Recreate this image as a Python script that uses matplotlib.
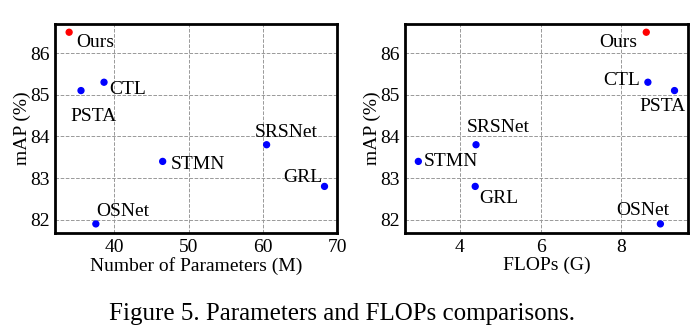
import matplotlib
matplotlib.use('Agg')
import matplotlib.pyplot as plt

plt.rcParams['font.family'] = ['Liberation Serif', 'DejaVu Serif']

methods = ['Ours', 'CTL', 'PSTA', 'SRSNet', 'STMN', 'GRL', 'OSNet']
mAP = [86.5, 85.3, 85.1, 83.8, 83.4, 82.8, 81.9]
params = [33.9, 38.6, 35.5, 60.5, 46.5, 68.3, 37.5]
flops = [8.62, 8.66, 9.32, 4.40, 2.97, 4.38, 8.97]

# label offsets in pixels (dx, dy, ha)
left_off = {'Ours': (7, -10, 'left'), 'CTL': (5, -7, 'left'), 'PSTA': (-11, -26, 'left'),
            'SRSNet': (20, 12, 'center'), 'STMN': (8, -3, 'left'), 'GRL': (-2, 9, 'right'),
            'OSNet': (0, 12, 'left')}
right_off = {'Ours': (-9, -10, 'right'), 'CTL': (-8, 2, 'right'), 'PSTA': (-12, -16, 'center'),
             'SRSNet': (22, 17, 'center'), 'STMN': (5, 0, 'left'), 'GRL': (4, -12, 'left'),
             'OSNet': (-18, 13, 'center')}

fig = plt.figure(figsize=(7, 3.32), dpi=100)
ax1 = fig.add_axes([0.0786, 0.298, 0.403, 0.63])
ax2 = fig.add_axes([0.5786, 0.298, 0.404, 0.63])


def draw(ax, xs, offs, xlim, xticks, xlabel):
    colors = ['red' if m == 'Ours' else 'blue' for m in methods]
    ax.scatter(xs, mAP, s=18, c=colors, zorder=3)
    for m, x, y in zip(methods, xs, mAP):
        dx, dy, ha = offs[m]
        ax.annotate(m, (x, y), xytext=(dx, dy), textcoords='offset pixels',
                    ha=ha, va='center', fontsize=14)
    ax.set_xlim(*xlim)
    ax.set_ylim(81.68, 86.7)
    ax.set_xticks(xticks)
    ax.set_yticks([82, 83, 84, 85, 86])
    ax.grid(True, ls='--', color='#999999', lw=0.7)
    ax.tick_params(direction='in', length=0, labelsize=14, pad=4)
    for sp in ax.spines.values():
        sp.set_linewidth(2)
    ax.set_xlabel(xlabel, fontsize=14, labelpad=1)
    ax.set_ylabel('mAP (%)', fontsize=14, labelpad=-1)


draw(ax1, params, left_off, (32, 70), [40, 50, 60, 70], 'Number of Parameters (M)')
draw(ax2, flops, right_off, (2.64, 9.65), [4, 6, 8], 'FLOPs (G)')

fig.text(0.488, 0.055, 'Figure 5. Parameters and FLOPs comparisons.', ha='center', va='center',
         fontsize=18)

fig.savefig('out.png', dpi=100)
